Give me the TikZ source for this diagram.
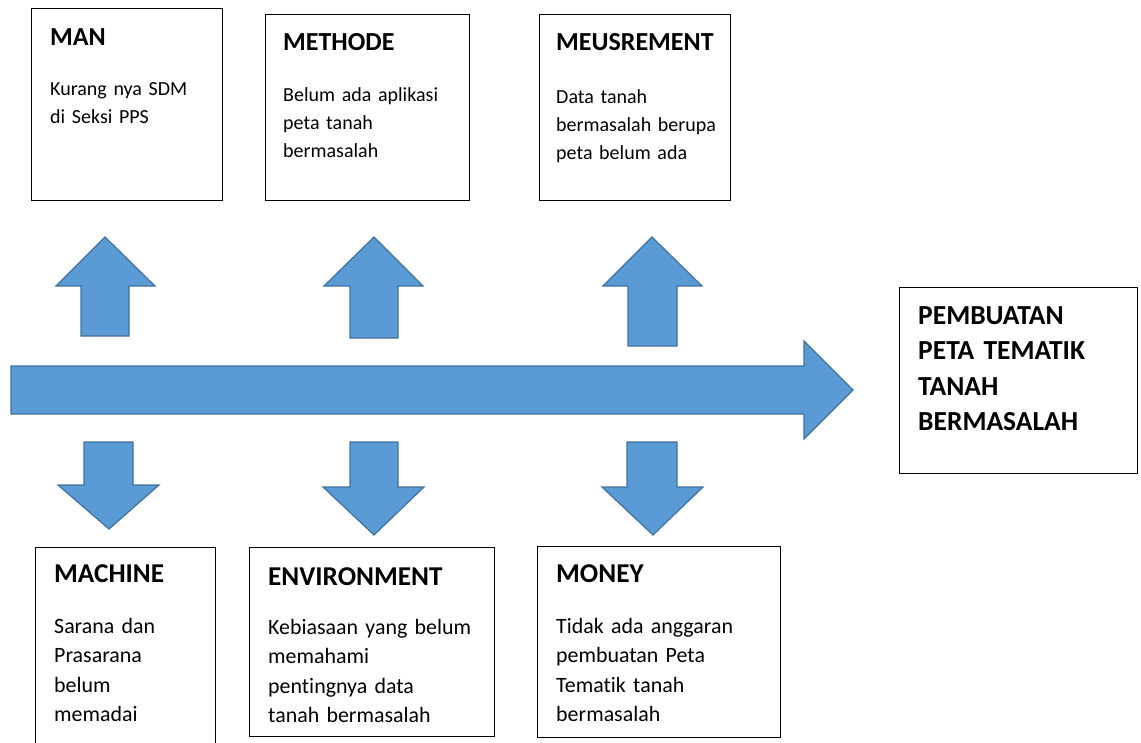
\documentclass[tikz,border=0pt]{standalone}
\usepackage{fontspec}
\setmainfont{Carlito}[Ligatures={NoCommon,NoContextual}]
\usepackage{tikz}
\definecolor{arrowblue}{RGB}{91,155,213}
\definecolor{arrowedge}{RGB}{65,113,156}
\tikzset{
  box/.style ={draw, line width=1.2pt, anchor=north west, inner sep=0pt},
  titletext/.style ={font=\fontsize{26}{34}\selectfont\bfseries, anchor=base west, inner sep=0pt},
  bodytext/.style ={font=\fontsize{20}{28}\selectfont, anchor=base west, inner sep=0pt, text width=210pt, align=left},
  lowtitle/.style ={titletext, font=\fontsize{27.2}{34}\selectfont\bfseries},
  lowtext/.style ={bodytext, font=\fontsize{21.9}{29.6}\selectfont},
  blockarrow/.style ={draw=arrowedge, fill=arrowblue, line width=1.2pt, line join=miter}
}

\begin{document}
\begin{tikzpicture}[x=1pt,y=-1pt]
	\useasboundingbox (0,0) rectangle (1141,742);
	\clip (0,0) rectangle (1141,742);
	% top boxes
	\node[box, minimum width=191pt, minimum height=192pt] (man) at (31,8) {};
	\node[titletext] (mantitle) at (50,45) {MAN};
	\node[bodytext] (mantext) at (50,95) {Kurang nya SDM\\di Seksi PPS};
	\node[box, minimum width=204pt, minimum height=186pt] (methode) at (265,14) {};
	\node[titletext] (methodetitle) at (283,50) {METHODE};
	\node[bodytext] (methodetext) at (283,101) {Belum ada aplikasi\\peta tanah\\bermasalah};
	\node[box, minimum width=191pt, minimum height=186pt] (meusrement) at (539,14) {};
	\node[titletext] (meusrementtitle) at (556,50) {MEUSREMENT};
	\node[bodytext] (meusrementtext) at (556,103) {Data tanah\\bermasalah berupa\\peta belum ada};
	% result box
	\node[box, minimum width=238pt, minimum height=186pt] (result) at (899,287) {};
	\node[titletext, font=\fontsize{27.5}{35.5}\selectfont\bfseries, text width=215pt, align=left] (resulttitle) at (918,324) {PEMBUATAN\\PETA TEMATIK\\TANAH\\BERMASALAH};
	% bottom boxes
	\node[box, minimum width=180pt, minimum height=215pt] (machine) at (35,547) {};
	\node[lowtitle] (machinetitle) at (54,582) {MACHINE};
	\node[lowtext] (machinetext) at (54,633) {Sarana dan\\Prasarana\\belum\\memadai};
	\node[box, minimum width=245pt, minimum height=189pt] (environment) at (249,547) {};
	\node[lowtitle] (environmenttitle) at (268,585) {ENVIRONMENT};
	\node[lowtext] (environmenttext) at (268,634) {Kebiasaan yang belum\\memahami\\pentingnya data\\tanah bermasalah};
	\node[box, minimum width=243pt, minimum height=191pt] (money) at (537,546) {};
	\node[lowtitle] (moneytitle) at (556,582) {MONEY};
	\node[lowtext] (moneytext) at (556,633) {Tidak ada anggaran\\pembuatan Peta\\Tematik tanah\\bermasalah};
	% main arrow
	\draw[blockarrow] (11,366) -- (804,366) -- (804,341) -- (853,390) -- (804,439) -- (804,414) -- (11,414) -- cycle;
	% up arrows
	\draw[blockarrow] (105,237) -- (155,286) -- (129,286) -- (129,336) -- (81,336) -- (81,286) -- (56,286) -- cycle;
	\draw[blockarrow] (374,237) -- (423,286) -- (398,286) -- (398,338) -- (350,338) -- (350,286) -- (324,286) -- cycle;
	\draw[blockarrow] (652,237) -- (702,286) -- (677,286) -- (677,346) -- (628,346) -- (628,286) -- (603,286) -- cycle;
	% down arrows
	\draw[blockarrow] (84,442) -- (133,442) -- (133,485) -- (159,485) -- (109,529) -- (58,485) -- (84,485) -- cycle;
	\draw[blockarrow] (350,442) -- (398,442) -- (398,487) -- (424,487) -- (374,535) -- (323,487) -- (350,487) -- cycle;
	\draw[blockarrow] (627,442) -- (677,442) -- (677,487) -- (703,487) -- (653,535) -- (602,487) -- (627,487) -- cycle;
\end{tikzpicture}
\end{document}
